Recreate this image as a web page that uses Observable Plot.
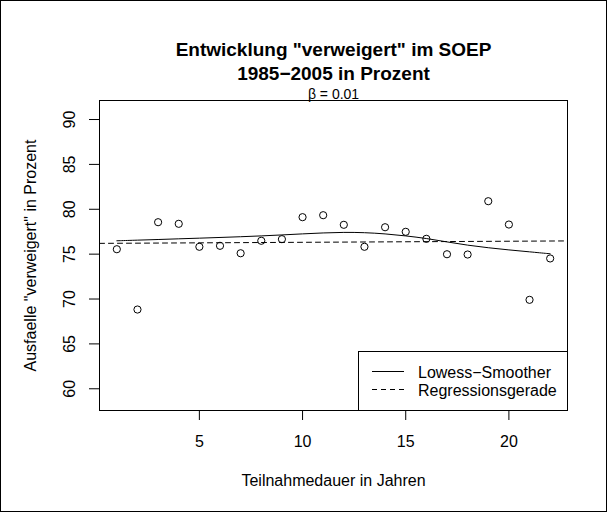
<!DOCTYPE html>
<html>
<head>
<meta charset="utf-8">
<script src="https://cdn.jsdelivr.net/npm/d3@7"></script>
<script src="https://cdn.jsdelivr.net/npm/@observablehq/plot@0.6"></script>
<style>
  body { margin: 0; background: #fff; }
  #wrap { position: relative; width: 607px; height: 512px; }
  #wrap > svg { display: block; outline: 1px solid #000; outline-offset: -1px; }
  .legend { position: absolute; left: 358px; top: 351px; width: 210px; height: 60px;
            box-sizing: border-box; border: 1px solid #000; background: #fff; }
  .legend svg { display: block; }
</style>
</head>
<body>
<div id="wrap"></div>
<script>
// ---- data ----
const jahre = [1, 2, 3, 4, 5, 6, 7, 8, 9, 10, 11, 12, 13, 14, 15, 16, 17, 18, 19, 20, 21, 22];
const verweigert = [75.55, 68.83, 78.56, 78.38, 75.82, 75.93, 75.1, 76.49, 76.67, 79.12, 79.34,
                    78.27, 75.82, 78.0, 77.49, 76.71, 74.99, 74.96, 80.9, 78.3, 69.91, 74.52];
const lowess = [76.49, 76.56, 76.63, 76.71, 76.78, 76.86, 76.94, 77.03, 77.14, 77.26, 77.37,
                77.44, 77.41, 77.27, 77.04, 76.76, 76.36, 75.99, 75.71, 75.47, 75.26, 75.04];
const regIntercept = 76.2;
const regSlope = 0.012;
const xTicks = [5, 10, 15, 20];
const yTicks = [60, 65, 70, 75, 80, 85, 90];
const xDomain = [0.16, 22.84];
const yDomain = [57.58, 92.12];
const titel1 = "Entwicklung \"verweigert\" im SOEP";
const titel2 = "1985\u22122005 in Prozent";
const untertitel = "\u03B2 = 0.01";
const xLabel = "Teilnahmedauer in Jahren";
const yLabel = "Ausfaelle \"verweigert\" in Prozent";
const legendLabels = ["Lowess\u2212Smoother", "Regressionsgerade"];

// ---- tables ----
const punkte = jahre.map((j, i) => ({x: j, y: verweigert[i]}));
const glatt = jahre.map((j, i) => ({x: j, y: lowess[i]}));
const reg = xDomain.map(x => ({x, y: regIntercept + regSlope * x}));

const font = "'Liberation Sans', Arial, Helvetica, sans-serif";

const chart = Plot.plot({
  width: 607,
  height: 512,
  marginLeft: 99,
  marginRight: 40,
  marginTop: 100,
  marginBottom: 102,
  style: {fontFamily: font, fontSize: "16px", color: "#000", background: "#fff"},
  x: {domain: xDomain, label: null},
  y: {domain: yDomain, label: null},
  marks: [
    Plot.line(reg, {x: "x", y: "y", stroke: "#000", strokeWidth: 1, strokeDasharray: "5,4", clip: true}),
    Plot.line(glatt, {x: "x", y: "y", stroke: "#000", strokeWidth: 1, curve: "basis"}),
    Plot.dot(punkte, {x: "x", y: "y", r: 3.6, stroke: "#000", strokeWidth: 1, fill: "none"}),
    Plot.frame({stroke: "#000", strokeWidth: 1}),
    Plot.axisX(xTicks, {tickSize: 10, tickPadding: 15, fontSize: 16, stroke: "#000"}),
    Plot.axisY(yTicks, {tickSize: 10, tickPadding: 15, tickRotate: -90, fontSize: 16, stroke: "#000"}),
    Plot.text([xLabel], {text: d => d, frameAnchor: "bottom", dy: 75, lineAnchor: "bottom", fontSize: 16}),
    Plot.text([yLabel], {text: d => d, frameAnchor: "left", dx: -64, rotate: -90, textAnchor: "middle", lineAnchor: "bottom", fontSize: 16}),
    Plot.text([titel1], {text: d => d, frameAnchor: "top", dy: -44.3, lineAnchor: "bottom", fontSize: 19, fontWeight: "bold"}),
    Plot.text([titel2], {text: d => d, frameAnchor: "top", dy: -20.7, lineAnchor: "bottom", fontSize: 19, fontWeight: "bold"}),
    Plot.text([untertitel], {text: d => d, frameAnchor: "top", dy: -1.7, lineAnchor: "bottom", fontSize: 14})
  ]
});

const wrap = document.getElementById("wrap");
wrap.appendChild(chart);

// legend (inside the plot box, bottom right)
const leg = document.createElement("div");
leg.className = "legend";
const ns = "http://www.w3.org/2000/svg";
const lsvg = document.createElementNS(ns, "svg");
lsvg.setAttribute("width", 208);
lsvg.setAttribute("height", 58);
const dashes = [null, "5,4"];
legendLabels.forEach((lab, i) => {
  const cy = 19.5 + i * 18;
  const ln = document.createElementNS(ns, "line");
  ln.setAttribute("x1", 13); ln.setAttribute("x2", 45);
  ln.setAttribute("y1", cy); ln.setAttribute("y2", cy);
  ln.setAttribute("stroke", "#000");
  if (dashes[i]) ln.setAttribute("stroke-dasharray", dashes[i]);
  lsvg.appendChild(ln);
  const t = document.createElementNS(ns, "text");
  t.setAttribute("x", 59);
  t.setAttribute("y", cy + 6);
  t.setAttribute("font-family", font);
  t.setAttribute("font-size", 16);
  t.textContent = lab;
  lsvg.appendChild(t);
});
leg.appendChild(lsvg);
wrap.appendChild(leg);
</script>
</body>
</html>
